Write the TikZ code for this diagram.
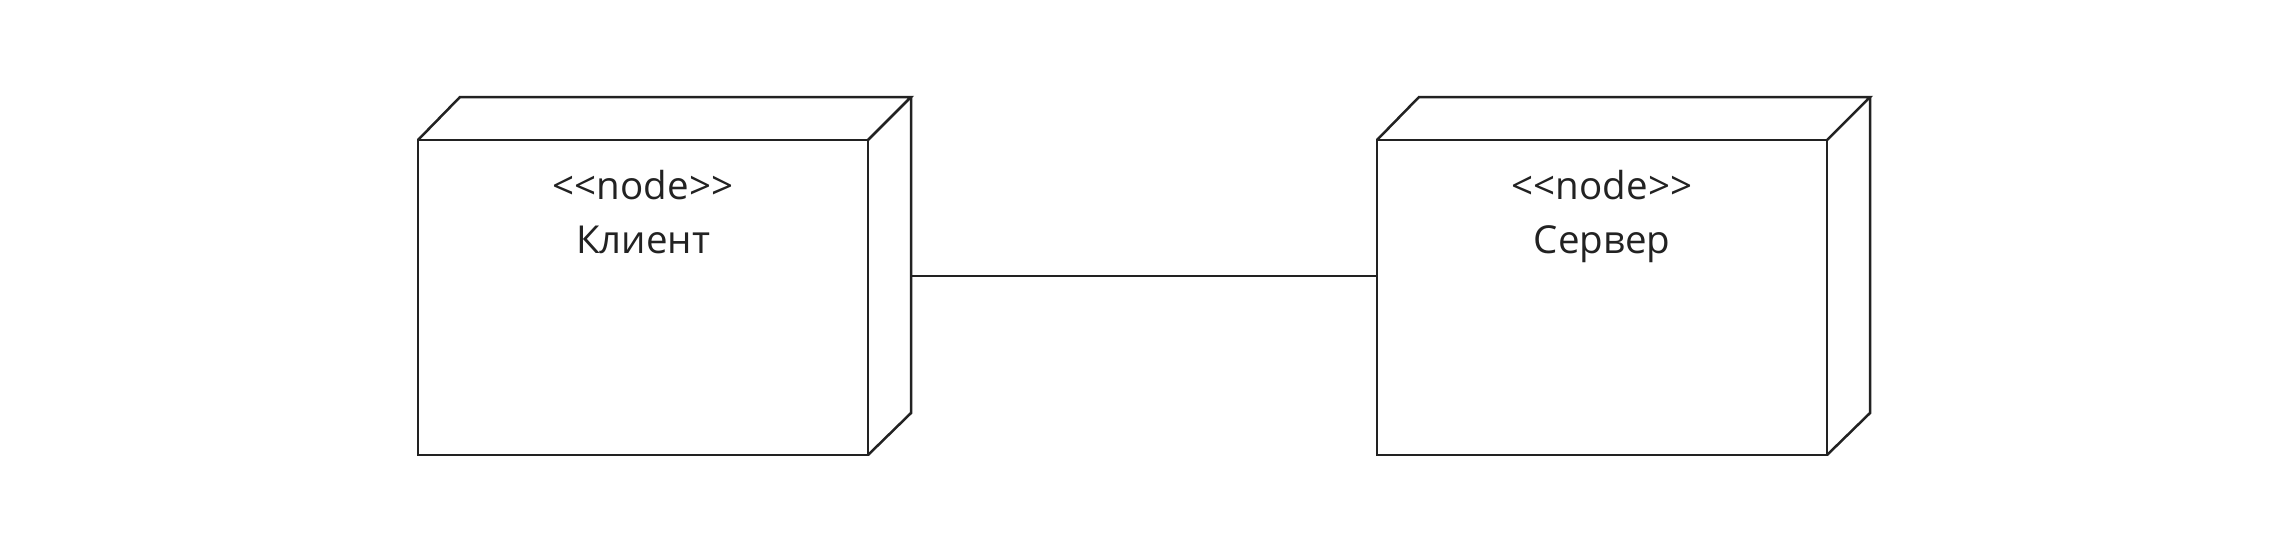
\documentclass[tikz,border=0pt]{standalone}
\usepackage{fontspec}
\setmainfont[Ligatures=NoCommon]{Open Sans}
\definecolor{ink}{HTML}{222222}
\begin{document}
\begin{tikzpicture}[x=1pt,y=-1pt,line width=2.5pt,draw=ink,
  face/.style={draw=ink,minimum width=450pt,minimum height=315pt,inner sep=0pt,outer sep=0pt,anchor=north west},
  lbl/.style={font=\fontsize{38.5}{44}\selectfont,text=ink,anchor=base,inner sep=0pt}]
\useasboundingbox (0,0) rectangle (2292,552);
% client
\node[face] (cf) at (418,140) {};
\draw[line join=miter] (cf.north west) -- ++(42,-43) coordinate (ctl) -- ++(451,0) coordinate (ctr) -- (cf.north east);
\draw[line join=miter] (ctr) -- ++(0,316) coordinate (cbr) -- (cf.south east);
\node[lbl] (cst) at (643,199) {{<}{<}node{>}{>}};
\node[lbl] (cname) at (643,253) {Клиент};
% server
\node[face] (sf) at (1377,140) {};
\draw[line join=miter] (sf.north west) -- ++(42,-43) coordinate (stl) -- ++(451,0) coordinate (str) -- (sf.north east);
\draw[line join=miter] (str) -- ++(0,316) coordinate (sbr) -- (sf.south east);
\node[lbl] (sst) at (1602,199) {{<}{<}node{>}{>}};
\node[lbl] (sname) at (1602,253) {Сервер};
% connector
\coordinate (ca) at (911,276);
\draw (ca) -- (ca -| sf.west);
\end{tikzpicture}
\end{document}
